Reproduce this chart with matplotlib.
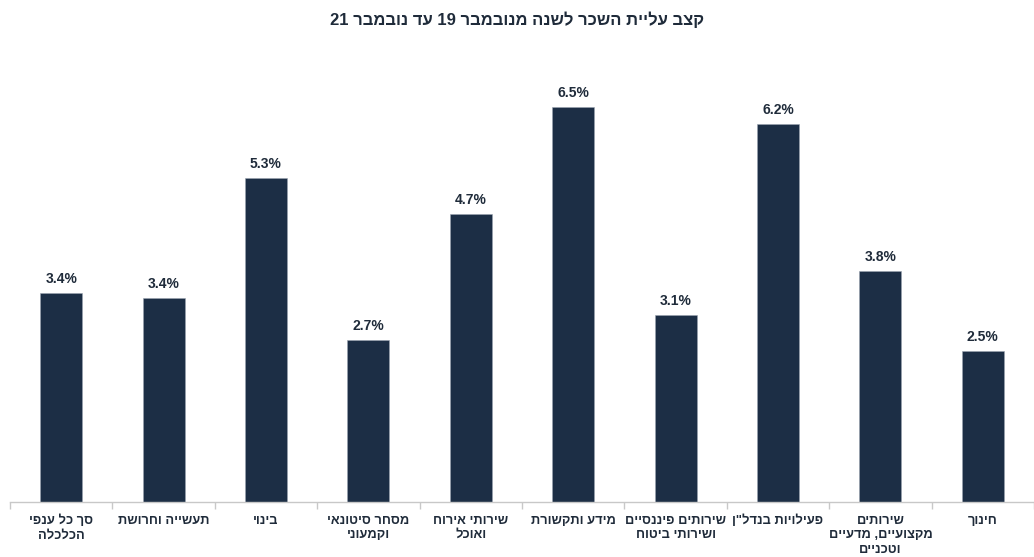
import re
import matplotlib
matplotlib.use('Agg')
import matplotlib.pyplot as plt

plt.rcParams['font.family'] = ['Liberation Sans', 'DejaVu Sans']

# ── data ──────────────────────────────────────────────────────
title = 'קצב עליית השכר לשנה מנובמבר 19 עד נובמבר 21'
categories = [
    'סך כל ענפי\nהכלכלה',
    'תעשייה וחרושת',
    'בינוי',
    'מסחר סיטונאי\nוקמעוני',
    'שירותי אירוח\nואוכל',
    'מידע ותקשורת',
    'שירותים פיננסיים\nושירותי ביטוח',
    'פעילויות בנדל"ן',
    'שירותים\nמקצועיים, מדעיים\nוטכניים',
    'חינוך',
]
values = [3.44, 3.36, 5.33, 2.66, 4.74, 6.5, 3.08, 6.22, 3.8, 2.48]

BAR = '#1c2e45'
TXT = '#1f2b3a'


def rtl(s):
    """crude visual-order conversion for Hebrew lines (keeps digit runs)"""
    out = []
    for line in s.split('\n'):
        r = line[::-1]
        r = re.sub(r'[0-9.%]+', lambda m: m.group(0)[::-1], r)
        out.append(r)
    return '\n'.join(out)


fig = plt.figure(figsize=(10.34, 5.57), dpi=100)
ax = fig.add_axes([10 / 1034, 55 / 557, 1 - 10 / 1034, 456 / 557])

x = list(range(len(values)))
bars = ax.bar(x, values, width=0.41, color=BAR, edgecolor='#9aa4b0', linewidth=0.4)

for xi, v in zip(x, values):
    ax.annotate(f'{v:.1f}%', (xi, v), xytext=(0, 5), textcoords='offset points',
                ha='center', va='bottom', fontsize=10, fontweight='bold', color=TXT)

for xi, c in zip(x, categories):
    ax.annotate(rtl(c), (xi, 0), xytext=(0, -9), textcoords='offset points',
                ha='center', va='top', fontsize=9.3, fontweight='bold', color=TXT,
                linespacing=1.3, multialignment='center')

ax.set_xlim(-0.5, -0.5 + 1024 / 103.4)
ax.set_ylim(0, 7.5)
for side in ['top', 'right', 'left']:
    ax.spines[side].set_visible(False)
ax.spines['bottom'].set_color('#c8c8c8')
ax.spines['bottom'].set_linewidth(1)
ax.set_yticks([])
ax.set_xticks([i - 0.5 for i in range(len(values) + 1)])
ax.set_xticklabels([])
ax.tick_params(axis='x', length=5, color='#c8c8c8', width=1)

fig.text(0.5, 1 - 20 / 557, rtl(title), ha='center', va='center',
         fontsize=12, fontweight='bold', color=TXT)

fig.savefig('out.png', dpi=100)
